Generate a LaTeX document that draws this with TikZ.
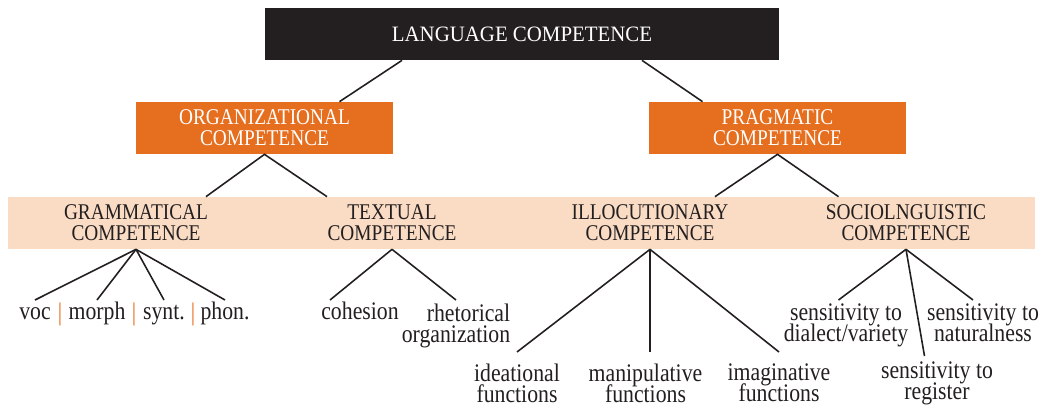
\documentclass[tikz,border=0pt]{standalone}
\usepackage{fontspec}
\setmainfont[FakeStretch=0.86]{Liberation Serif}
\newfontfamily\titlefont[FakeStretch=0.95]{Liberation Serif}
\usetikzlibrary{positioning}

\definecolor{ink}{HTML}{231F20}
\definecolor{rootfill}{HTML}{231F20}
\definecolor{branchfill}{HTML}{E66E1F}
\definecolor{bandfill}{HTML}{FADCC5}

\newcommand\leaffont{\fontsize{14.4}{12}\selectfont\lineskiplimit=-20pt\relax}

\tikzset{
  root/.style={fill=rootfill, text=white, minimum width=10.28cm, minimum height=1.04cm,
    inner sep=0pt, font=\titlefont\fontsize{12.5}{14}\selectfont},
  branch/.style={fill=branchfill, text=white, minimum width=5.14cm, minimum height=1.04cm,
    inner sep=0pt, align=center, font=\fontsize{12.8}{12}\selectfont},
  area/.style={text=ink, minimum height=1.04cm, inner sep=0pt, align=center,
    font=\fontsize{12.8}{12}\selectfont},
  % one-line leaves get a fixed height, two-line ones a gap above the first line
  leaf/.style={text=ink, anchor=north, inner sep=0pt, text height=11pt, font=\leaffont},
  stack/.style={text=ink, anchor=north, inner xsep=0pt, inner ysep=#1, align=center,
    font=\leaffont},
  stack/.default=2pt,
  sep/.style={text=branchfill, anchor=base, inner sep=0pt, font=\leaffont},
  link/.style={draw=ink, line width=0.9pt},
}

\begin{document}
\begin{tikzpicture}[x=0.02cm, y=-0.02cm]
  \useasboundingbox (0,0) rectangle (1048,409);

  \node[root] (lang) at (522,34) {LANGUAGE COMPETENCE};
  \node[branch] (org) at (264.5,128) {ORGANIZATIONAL\\COMPETENCE};
  \node[branch] (prag) at (777.5,128) {PRAGMATIC\\COMPETENCE};

  \fill[bandfill] (8,197) rectangle (1035,249);
  \node[area] (gram) at (136,223) {GRAMMATICAL\\COMPETENCE};
  \node[area] (textual) at (392,223) {TEXTUAL\\COMPETENCE};
  \node[area] (illoc) at (650,223) {ILLOCUTIONARY\\COMPETENCE};
  \node[area] (socio) at (906,223) {SOCIOLNGUISTIC\\COMPETENCE};

  % grammatical parts, split by orange bars
  \node[leaf] (voc) at (35,300) {voc};
  \node[sep] (bara) at (60,320) {|};
  \node[leaf] (morph) at (97,300) {morph};
  \node[sep] (barb) at (134,320) {|};
  \node[leaf] (synt) at (164,300) {synt.};
  \node[sep] (barc) at (193,320) {|};
  \node[leaf] (phon) at (225,300) {phon.};

  \node[leaf] (coh) at (360,300) {cohesion};
  \node[stack, align=right] (rhet) at (456,300) {rhetorical\\organization};

  \node[stack=6.5pt] (idea) at (517,352) {ideational\\functions};
  \node[stack=6.5pt] (manip) at (645.5,352) {manipulative\\functions};
  \node[stack=6.5pt] (imag) at (779,352) {imaginative\\functions};

  \node[stack] (dial) at (846,300) {sensitivity to\\dialect/variety};
  \node[stack] (natur) at (983,300) {sensitivity to\\naturalness};
  \node[stack=3pt] (regis) at (937,356) {sensitivity to\\register};

  \draw[link] ([xshift=-2.4cm]lang.south) -- ([xshift=1.5cm]org.north);
  \draw[link] ([xshift=2.4cm]lang.south) -- ([xshift=-1.5cm]prag.north);

  \draw[link] ([xshift=1.4cm]gram.north) -- (org.south) -- ([xshift=-1.3cm]textual.north);
  \draw[link] ([xshift=1.3cm]illoc.north) -- (prag.south) -- ([xshift=-1.35cm]socio.north);

  \foreach \part in {voc,morph,synt,phon}
    \draw[link] (gram.south) -- (\part.north);
  \draw[link] (textual.south) -- ([xshift=-0.6cm]coh.north);
  \draw[link] (textual.south) -- (rhet.north);

  \draw[link] (illoc.south) -- (idea.north);
  \draw[link] (illoc.south) -- (manip.north -| illoc.south);
  \draw[link] (illoc.south) -- (imag.north);

  \draw[link] (socio.south) -- ([xshift=-0.15cm]dial.north);
  \draw[link] (socio.south) -- ([xshift=-0.2cm]natur.north);
  \draw[link] (socio.south) -- ([xshift=-0.25cm]regis.north);
\end{tikzpicture}
\end{document}
